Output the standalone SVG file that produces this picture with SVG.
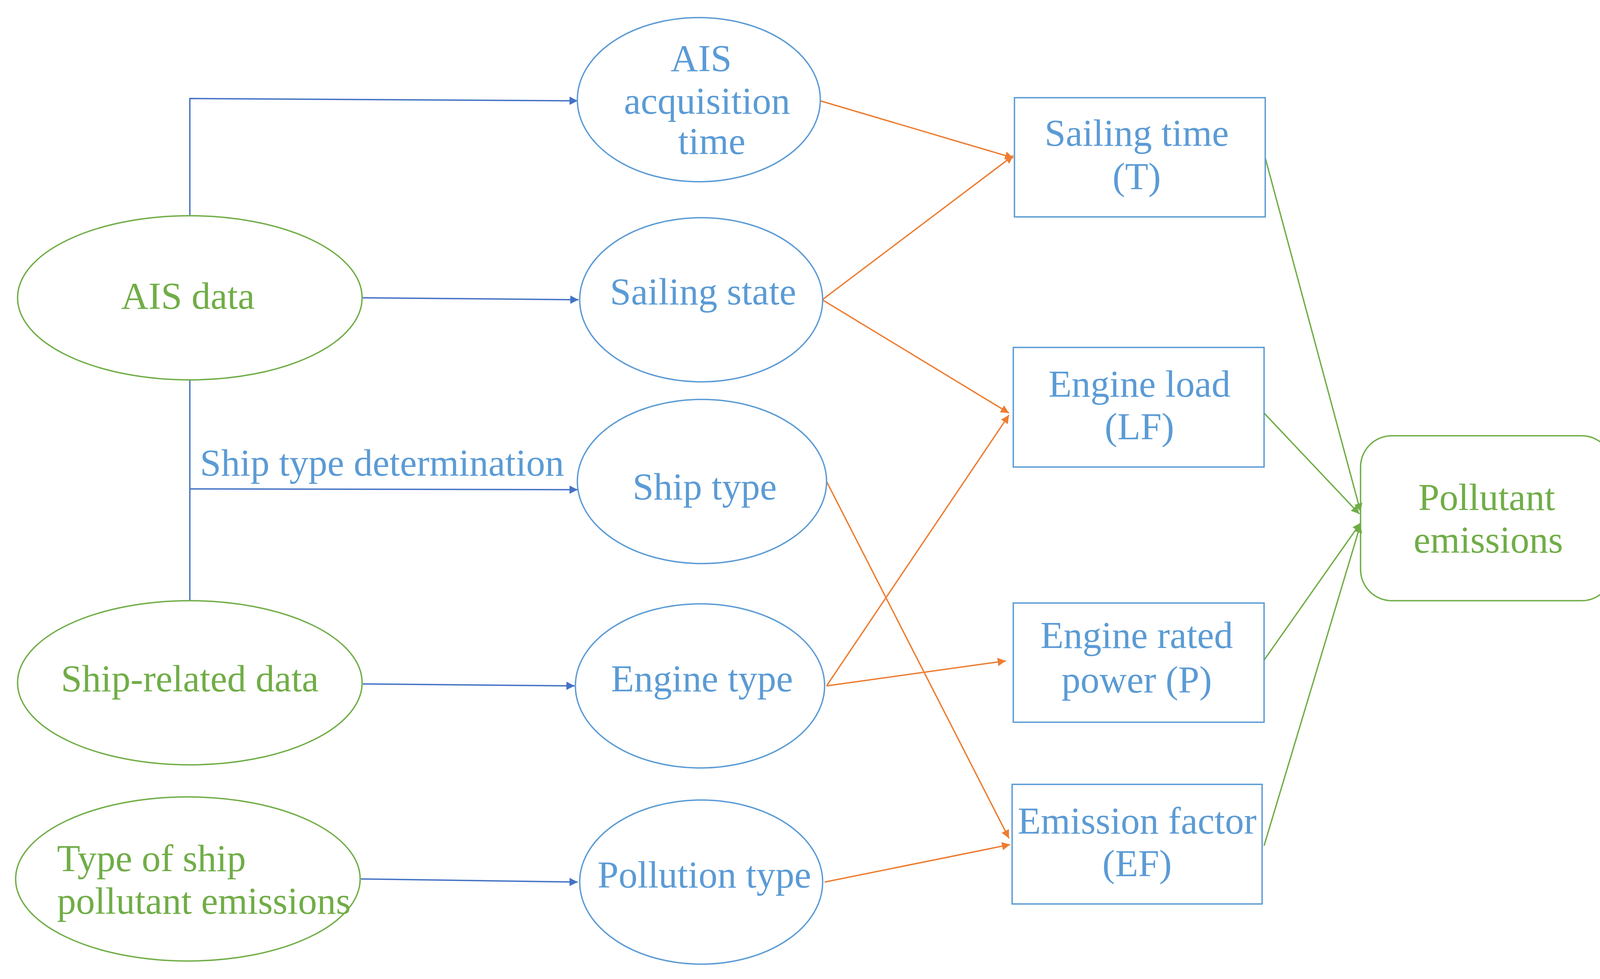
<svg xmlns="http://www.w3.org/2000/svg" width="4163" height="2505" viewBox="0 0 4163 2505">
<style>
text{font-family:"Liberation Serif",serif;font-size:97px;text-anchor:middle;dominant-baseline:central}
.b{fill:#5B9BD5}.g{fill:#70AD47}
.be{fill:none;stroke:#5B9BD5;stroke-width:3.5}
.ge{fill:none;stroke:#70AD47;stroke-width:3.5}
.lb{stroke:#4472C4;stroke-width:3.5;fill:none}
.lo{stroke:#ED7D31;stroke-width:3.5;fill:none}
.lg{stroke:#70AD47;stroke-width:3.5;fill:none}
</style>
<defs>
<marker id="ab" viewBox="0 0 10 10" refX="10" refY="5" markerWidth="6" markerHeight="6" orient="auto"><path d="M0,0L10,5L0,10z" fill="#4472C4"/></marker>
<marker id="ao" viewBox="0 0 10 10" refX="10" refY="5" markerWidth="6" markerHeight="6" orient="auto"><path d="M0,0L10,5L0,10z" fill="#ED7D31"/></marker>
<marker id="ag" viewBox="0 0 10 10" refX="10" refY="5" markerWidth="6" markerHeight="6" orient="auto"><path d="M0,0L10,5L0,10z" fill="#70AD47"/></marker>
</defs>
<rect width="4163" height="2505" fill="#fff"/>
<g id="connectors">
<path class="lb" d="M486,552V252L1479,258" marker-end="url(#ab)"/>
<path class="lb" d="M927,762L1481,767" marker-end="url(#ab)"/>
<path class="lb" d="M486,972V1537"/>
<path class="lb" d="M486,1251L1479,1253" marker-end="url(#ab)"/>
<path class="lb" d="M929,1750L1471,1755" marker-end="url(#ab)"/>
<path class="lb" d="M924,2249L1479,2257" marker-end="url(#ab)"/>
<text class="b" x="512" y="1184" style="text-anchor:start">Ship type  determination</text>
<path class="lo" d="M2100,258L2594,404" marker-end="url(#ao)"/>
<path class="lo" d="M2105,767L2594,398" marker-end="url(#ao)"/>
<path class="lo" d="M2105,767L2583,1057" marker-end="url(#ao)"/>
<path class="lo" d="M2116,1232L2583,2145" marker-end="url(#ao)"/>
<path class="lo" d="M2116,1755L2583,1062" marker-end="url(#ao)"/>
<path class="lo" d="M2116,1755L2575,1691" marker-end="url(#ao)"/>
<path class="lo" d="M2111,2257L2586,2161" marker-end="url(#ao)"/>
<path class="lg" d="M3239,404L3483,1309" marker-end="url(#ag)"/>
<path class="lg" d="M3236,1057L3480,1315" marker-end="url(#ag)"/>
<path class="lg" d="M3236,1689L3483,1338" marker-end="url(#ag)"/>
<path class="lg" d="M3236,2164L3483,1342" marker-end="url(#ag)"/>
</g>
<g id="ais-data"><ellipse class="ge" cx="486" cy="762" rx="441" ry="210"/><text class="g" x="481" y="757">AIS data</text></g>
<g id="ship-related"><ellipse class="ge" cx="486" cy="1747" rx="441" ry="210"/><text class="g" x="486" y="1736">Ship-related  data</text></g>
<g id="type-emissions"><ellipse class="ge" cx="481" cy="2249" rx="441" ry="210"/><text class="g" x="146" y="2196" style="text-anchor:start">Type of ship</text><text class="g" x="146" y="2305" style="text-anchor:start">pollutant emissions</text></g>
<g id="ais-time"><ellipse class="be" cx="1789" cy="255" rx="311" ry="210"/><text class="b" x="1795" y="149">AIS</text><text class="b" x="1810" y="258">acquisition</text><text class="b" x="1822" y="361">time</text></g>
<g id="sailing-state"><ellipse class="be" cx="1795" cy="767" rx="311" ry="210"/><text class="b" x="1800" y="746">Sailing state</text></g>
<g id="ship-type"><ellipse class="be" cx="1797" cy="1232" rx="319" ry="210"/><text class="b" x="1804" y="1245">Ship type</text></g>
<g id="engine-type"><ellipse class="be" cx="1792" cy="1755" rx="319" ry="210"/><text class="b" x="1797" y="1736">Engine type</text></g>
<g id="pollution-type"><ellipse class="be" cx="1795" cy="2257" rx="311" ry="210"/><text class="b" x="1803" y="2238">Pollution type</text></g>
<g id="sailing-time"><rect class="be" x="2597" y="250" width="642" height="305"/><text class="b" x="2910" y="340">Sailing time</text><text class="b" x="2910" y="451">(T)</text></g>
<g id="engine-load"><rect class="be" x="2594" y="889" width="642" height="306"/><text class="b" x="2917" y="982">Engine load</text><text class="b" x="2917" y="1091">(LF)</text></g>
<g id="engine-power"><rect class="be" x="2594" y="1543" width="642" height="305"/><text class="b" x="2910" y="1625">Engine rated</text><text class="b" x="2910" y="1739">power  (P)</text></g>
<g id="emission-factor"><rect class="be" x="2591" y="2007" width="640" height="306"/><text class="b" x="2911" y="2100">Emission factor</text><text class="b" x="2911" y="2209">(EF)</text></g>
<g id="pollutant-emissions"><rect class="ge" x="3483" y="1115" width="646" height="422" rx="80"/><text class="g" x="3806" y="1272">Pollutant</text><text class="g" x="3810" y="1381">emissions</text></g>
</svg>
